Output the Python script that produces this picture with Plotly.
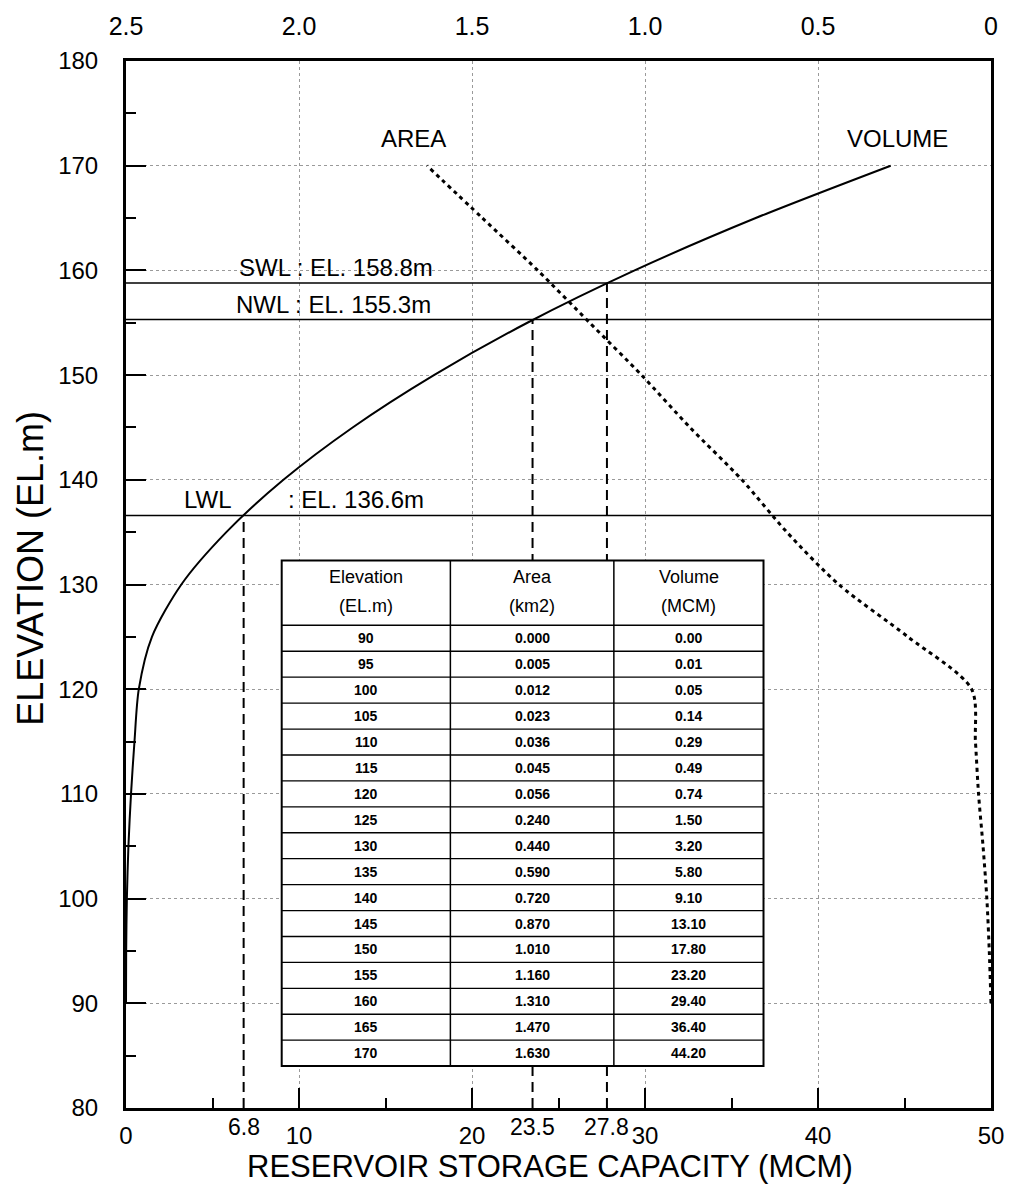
import plotly.graph_objects as go

# ---------------- data ----------------
elevation = [90, 95, 100, 105, 110, 115, 120, 125, 130, 135, 140, 145, 150, 155, 160, 165, 170]
area_km2 = [0.000, 0.005, 0.012, 0.023, 0.036, 0.045, 0.056, 0.240, 0.440, 0.590,
            0.720, 0.870, 1.010, 1.160, 1.310, 1.470, 1.630]
volume_mcm = [0.00, 0.01, 0.05, 0.14, 0.29, 0.49, 0.74, 1.50, 3.20, 5.80,
              9.10, 13.10, 17.80, 23.20, 29.40, 36.40, 44.20]

level_names = ["LWL", "NWL", "SWL"]
level_elev = [136.6, 155.3, 158.8]
level_vol = [6.8, 23.5, 27.8]

x_tickvals = [0, 10, 20, 30, 40, 50]
top_tickvals = [2.5, 2.0, 1.5, 1.0, 0.5, 0.0]
top_ticktext = ["2.5", "2.0", "1.5", "1.0", "0.5", "0"]
y_tickvals = [80, 90, 100, 110, 120, 130, 140, 150, 160, 170, 180]

header_top = ["Elevation", "Area", "Volume"]
header_bot = ["(EL.m)", "(km2)", "(MCM)"]
elev_txt = [str(e) for e in elevation]
area_txt = ["%.3f" % a for a in area_km2]
vol_txt = ["%.2f" % v for v in volume_mcm]

FONT = "Liberation Sans, Arial, Helvetica, sans-serif"

fig = go.Figure()

fig.add_trace(go.Scatter(
    x=volume_mcm, y=elevation, mode="lines", xaxis="x", yaxis="y",
    line=dict(color="black", width=2, shape="spline", smoothing=0.8),
    showlegend=False, hoverinfo="skip"))

fig.add_trace(go.Scatter(
    x=area_km2, y=elevation, mode="lines", xaxis="x2", yaxis="y",
    line=dict(color="black", width=3, dash="4px,4px", shape="spline", smoothing=0.8),
    showlegend=False, hoverinfo="skip"))

shapes = []
# horizontal water level lines
for el in level_elev:
    shapes.append(dict(type="line", xref="x", yref="y", x0=0, x1=50, y0=el, y1=el,
                       line=dict(color="black", width=1.5), layer="above"))
# vertical dashed lines
for el, v in zip(level_elev, level_vol):
    shapes.append(dict(type="line", xref="x", yref="y", x0=v, x1=v, y0=80, y1=el,
                       line=dict(color="black", width=2, dash="10px,6px"), layer="above"))

# ---------------- table ----------------
col_x = [9.0, 18.75, 28.2, 36.85]
t_top = 132.3
t_head = 126.1
t_bottom = 84.0
n = len(elevation)
row_h = (t_head - t_bottom) / n

shapes.append(dict(type="rect", xref="x", yref="y", x0=col_x[0], x1=col_x[-1],
                   y0=t_bottom, y1=t_top, fillcolor="white",
                   line=dict(color="black", width=2), layer="above"))
for i in range(n - 1):
    yb = t_head - (i + 1) * row_h
    shapes.append(dict(type="line", xref="x", yref="y", x0=col_x[0], x1=col_x[-1],
                       y0=yb, y1=yb, line=dict(color="black", width=1.3), layer="above"))
shapes.append(dict(type="line", xref="x", yref="y", x0=col_x[0], x1=col_x[-1],
                   y0=t_head, y1=t_head, line=dict(color="black", width=1.5), layer="above"))
for cx in col_x[1:-1]:
    shapes.append(dict(type="line", xref="x", yref="y", x0=cx, x1=cx, y0=t_bottom, y1=t_top,
                       line=dict(color="black", width=1.5), layer="above"))

annotations = []
centers = [(col_x[i] + col_x[i + 1]) / 2 for i in range(3)]
for j in range(3):
    annotations.append(dict(x=centers[j], y=130.7, xref="x", yref="y", text=header_top[j],
                            showarrow=False, font=dict(size=18, color="black", family=FONT)))
    annotations.append(dict(x=centers[j], y=127.9, xref="x", yref="y", text=header_bot[j],
                            showarrow=False, font=dict(size=18, color="black", family=FONT)))
for i in range(n):
    yc = t_head - (i + 0.5) * row_h
    for j, col in enumerate([elev_txt, area_txt, vol_txt]):
        annotations.append(dict(x=centers[j], y=yc, xref="x", yref="y", text="<b>%s</b>" % col[i],
                                showarrow=False, font=dict(size=14, color="black", family=FONT)))

# ---------------- labels ----------------
lab_font = dict(size=24, color="black", family=FONT)
annotations.append(dict(x=12.15, y=160.3, xref="x", yref="y", text="SWL : EL. 158.8m",
                        showarrow=False, font=lab_font))
annotations.append(dict(x=12.0, y=156.7, xref="x", yref="y", text="NWL : EL. 155.3m",
                        showarrow=False, font=lab_font))
annotations.append(dict(x=4.75, y=138.1, xref="x", yref="y", text="LWL",
                        showarrow=False, font=lab_font))
annotations.append(dict(x=13.3, y=138.1, xref="x", yref="y", text=": EL. 136.6m",
                        showarrow=False, font=lab_font))
annotations.append(dict(x=16.6, y=172.6, xref="x", yref="y", text="AREA",
                        showarrow=False, font=lab_font))
annotations.append(dict(x=44.6, y=172.6, xref="x", yref="y", text="VOLUME",
                        showarrow=False, font=lab_font))

for v in level_vol:
    annotations.append(dict(x=v, y=0, xref="x", yref="paper", text=str(v),
                            yanchor="middle", yshift=-19, showarrow=False,
                            font=dict(size=23, color="black", family=FONT)))

annotations.append(dict(x=0.49, y=0, xref="paper", yref="paper",
                        text="RESERVOIR STORAGE CAPACITY (MCM)", yanchor="middle", yshift=-58,
                        showarrow=False, font=dict(size=31, color="black", family=FONT)))
annotations.append(dict(x=0, y=0.515, xref="paper", yref="paper", text="ELEVATION (EL.m)",
                        textangle=-90, xanchor="center", yanchor="middle", xshift=-95,
                        showarrow=False, font=dict(size=36, color="black", family=FONT)))

grid = dict(showgrid=True, gridcolor="#9a9a9a", gridwidth=1, griddash="dot")

fig.update_layout(
    width=1016, height=1197,
    margin=dict(l=126, r=19, t=51, b=89),
    paper_bgcolor="white", plot_bgcolor="white",
    font=dict(family=FONT, color="black"),
    shapes=shapes, annotations=annotations,
    xaxis=dict(range=[0, 50], tickvals=x_tickvals, ticks="inside", ticklen=20, tickwidth=2,
               tickcolor="black", showline=True, linecolor="black", linewidth=2.5, mirror=True,
               zeroline=False, tickfont=dict(size=24), ticklabelstandoff=4,
               minor=dict(dtick=5, tick0=0, ticks="inside", ticklen=10, tickwidth=1.5,
                          tickcolor="black", showgrid=False),
               **grid),
    xaxis2=dict(range=[2.5, 0], overlaying="x", side="top", tickvals=top_tickvals,
                ticktext=top_ticktext, ticks="", showgrid=False, zeroline=False,
                showline=False, tickfont=dict(size=25), ticklabelstandoff=20),
    yaxis=dict(range=[80, 180], tickvals=y_tickvals, ticks="inside", ticklen=20, tickwidth=2,
               tickcolor="black", showline=True, linecolor="black", linewidth=3, mirror=True,
               zeroline=False, tickfont=dict(size=24), ticklabelstandoff=20,
               minor=dict(dtick=5, tick0=80, ticks="inside", ticklen=10, tickwidth=1.5,
                          tickcolor="black", showgrid=False),
               **grid),
)

fig.write_html("out.html")
